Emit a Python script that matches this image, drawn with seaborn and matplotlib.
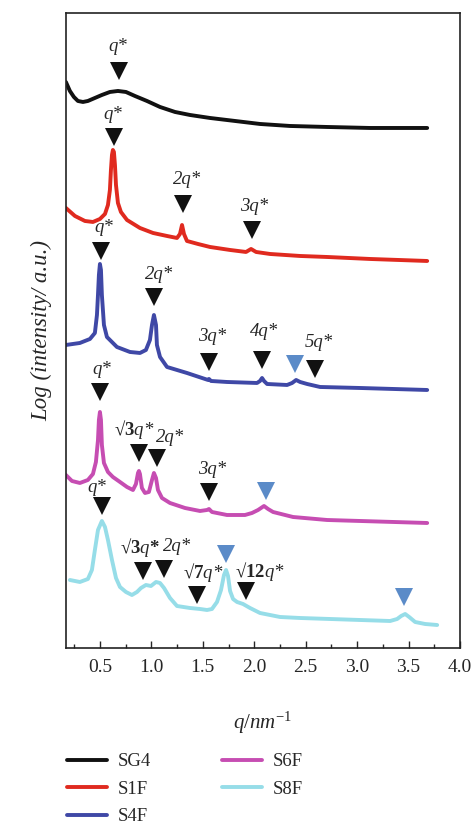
import matplotlib
matplotlib.use('Agg')
import matplotlib.pyplot as plt
import seaborn as sns
from matplotlib.ticker import MultipleLocator

# SAXS curves, q in nm^-1, log intensity in arbitrary units (stacked)
sg4_q = [0.169, 0.208, 0.247, 0.286, 0.335, 0.383, 0.451, 0.519, 0.597, 0.675, 0.753, 0.840, 0.957,
         1.084, 1.230, 1.375, 1.570, 1.813, 2.056, 2.348, 2.708, 3.126, 3.681]
sg4_i = [5.66, 5.57, 5.51, 5.47, 5.46, 5.47, 5.50, 5.53, 5.56, 5.57, 5.56, 5.52, 5.47,
         5.41, 5.36, 5.33, 5.30, 5.27, 5.24, 5.22, 5.21, 5.20, 5.20]

s1f_q = [0.169, 0.257, 0.354, 0.432, 0.5, 0.549, 0.578, 0.597, 0.607, 0.617, 0.626, 0.636, 0.646, 0.656,
         0.675, 0.704, 0.763, 0.889, 1.016, 1.152, 1.249, 1.278, 1.298, 1.317, 1.346, 1.453, 1.570,
         1.765, 1.920, 1.969, 2.018, 2.154, 2.446, 2.708, 3.126, 3.681]
s1f_i = [4.40, 4.32, 4.27, 4.26, 4.29, 4.34, 4.43, 4.58, 4.78, 4.93, 4.98, 4.96, 4.83, 4.63,
         4.45, 4.36, 4.28, 4.20, 4.15, 4.12, 4.10, 4.14, 4.23, 4.14, 4.07, 4.04, 4.01,
         3.98, 3.96, 3.99, 3.96, 3.94, 3.92, 3.91, 3.89, 3.87]

s4f_q = [0.169, 0.305, 0.403, 0.451, 0.471, 0.481, 0.490, 0.5, 0.510, 0.519, 0.539, 0.568, 0.665,
         0.792, 0.889, 0.947, 0.986, 1.006, 1.025, 1.045, 1.054, 1.084, 1.152, 1.346, 1.551, 1.560,
         1.580, 1.735, 2.027, 2.056, 2.076, 2.095, 2.125, 2.319, 2.368, 2.407, 2.446, 2.514, 2.640,
         3.029, 3.681]
s4f_i = [3.03, 3.05, 3.09, 3.15, 3.33, 3.53, 3.73, 3.84, 3.78, 3.53, 3.23, 3.11, 3.01,
         2.96, 2.95, 2.98, 3.08, 3.23, 3.33, 3.23, 3.03, 2.91, 2.81, 2.75, 2.68, 2.69,
         2.67, 2.66, 2.65, 2.67, 2.70, 2.67, 2.64, 2.63, 2.65, 2.68, 2.66, 2.64, 2.61,
         2.60, 2.58]

s6f_q = [0.169, 0.228, 0.305, 0.383, 0.432, 0.461, 0.481, 0.490, 0.5, 0.510, 0.519, 0.539, 0.578,
         0.626, 0.695, 0.763, 0.821, 0.850, 0.870, 0.879, 0.889, 0.908, 0.938, 0.976, 1.006, 1.025,
         1.045, 1.064, 1.103, 1.181, 1.327, 1.473, 1.541, 1.560, 1.589, 1.735, 1.910, 1.978, 2.037,
         2.095, 2.134, 2.183, 2.377, 2.708, 3.681]
s6f_i = [1.73, 1.67, 1.65, 1.68, 1.74, 1.86, 2.08, 2.28, 2.36, 2.28, 2.03, 1.85, 1.76,
         1.71, 1.66, 1.61, 1.58, 1.64, 1.75, 1.77, 1.74, 1.60, 1.55, 1.56, 1.68, 1.75,
         1.70, 1.58, 1.50, 1.45, 1.40, 1.37, 1.38, 1.39, 1.36, 1.33, 1.33, 1.35, 1.38,
         1.42, 1.39, 1.36, 1.31, 1.28, 1.25]

s8f_q = [0.208, 0.305, 0.383, 0.422, 0.451, 0.481, 0.519, 0.549, 0.578, 0.617, 0.656, 0.695, 0.753,
         0.811, 0.860, 0.899, 0.947, 0.996, 1.045, 1.084, 1.123, 1.181, 1.249, 1.375, 1.473, 1.541,
         1.589, 1.638, 1.677, 1.706, 1.726, 1.745, 1.765, 1.794, 1.833, 1.891, 1.959, 2.056, 2.251,
         2.446, 2.737, 3.029, 3.321, 3.389, 3.428, 3.467, 3.506, 3.564, 3.661, 3.778]
s8f_i = [0.68, 0.66, 0.69, 0.78, 0.98, 1.18, 1.27, 1.21, 1.08, 0.88, 0.70, 0.61, 0.56,
         0.53, 0.56, 0.60, 0.63, 0.62, 0.66, 0.65, 0.60, 0.50, 0.42, 0.40, 0.39, 0.38,
         0.39, 0.46, 0.58, 0.73, 0.78, 0.72, 0.57, 0.49, 0.46, 0.44, 0.40, 0.35, 0.31,
         0.30, 0.29, 0.28, 0.27, 0.29, 0.32, 0.34, 0.31, 0.26, 0.24, 0.23]

names = ['SG4', 'S1F', 'S4F', 'S6F', 'S8F']
colors = ['#111111', '#e02a1f', '#3f48a6', '#c64db2', '#96dde8']

# peak markers: q, height, kind ('k' indexed peak, 'b' other)
mark_q = [0.685, 0.636, 1.307, 1.979, 0.510, 1.025, 1.560, 2.076, 2.397, 2.591,
          0.500, 0.879, 1.054, 1.560, 2.115, 0.519, 0.918, 1.123, 1.726, 1.444, 1.920, 3.457]
mark_i = [5.77, 5.11, 4.44, 4.18, 3.97, 3.51, 2.86, 2.88, 2.84, 2.79,
          2.56, 1.95, 1.90, 1.56, 1.57, 1.42, 0.77, 0.79, 0.94, 0.53, 0.57, 0.51]
mark_kind = ['k', 'k', 'k', 'k', 'k', 'k', 'k', 'k', 'b', 'k',
             'k', 'k', 'k', 'k', 'b', 'k', 'k', 'k', 'b', 'k', 'k', 'b']

# peak labels
lab_text = ['q*', 'q*', '2q*', '3q*',
            'q*', '2q*', '3q*', '4q*', '5q*',
            'q*', r'$\mathbf{√3}$q*', '2q*', '3q*',
            'q*', r'$\mathbf{√3}$q$\mathbf{*}$', '2q*', r'$\mathbf{√7}$q*', r'$\mathbf{√12}$q*']
lab_q = [0.675, 0.626, 1.346, 1.999, 0.539, 1.074, 1.589, 2.095, 2.630,
         0.519, 0.830, 1.181, 1.589,
         0.471, 0.889, 1.249, 1.500, 2.056]
lab_i = [6.01, 5.33, 4.68, 4.41, 4.20, 3.73, 3.11, 3.16, 3.05,
         2.78, 2.18, 2.10, 1.78,
         1.60, 1.00, 1.01, 0.75, 0.76]

sns.set_style('white')
plt.rcParams['font.family'] = ['Liberation Serif', 'DejaVu Serif']
plt.rcParams['mathtext.fontset'] = 'custom'
plt.rcParams['mathtext.rm'] = 'Liberation Serif'
plt.rcParams['mathtext.it'] = 'Liberation Serif:italic'
plt.rcParams['mathtext.bf'] = 'Liberation Serif:bold'

fig = plt.figure(figsize=(4.73, 8.26), dpi=100)
ax = fig.add_axes([0.1395, 0.2155, 0.833, 0.7688])

series = [(sg4_q, sg4_i), (s1f_q, s1f_i), (s4f_q, s4f_i), (s6f_q, s6f_i), (s8f_q, s8f_i)]
for (q, inten), name, c in zip(series, names, colors):
    sns.lineplot(x=q, y=inten, ax=ax, color=c, lw=2.8, label=name, sort=False)

for q, y, k in zip(mark_q, mark_i, mark_kind):
    ax.plot(q, y, marker='v', ms=13.5, color='#111111' if k == 'k' else '#5b8bc8', mew=0, ls='none')

for t, q, y in zip(lab_text, lab_q, lab_i):
    ax.text(q, y, t, ha='center', va='center', fontsize=13.5, style='italic')

ax.set_xlim(0.17, 4.0)
ax.set_ylim(0, 6.35)
ax.set_yticks([])
ax.xaxis.set_major_locator(MultipleLocator(0.5))
ax.xaxis.set_minor_locator(MultipleLocator(0.25))
ax.tick_params(axis='x', which='both', direction='in', bottom=True, top=False, labelsize=14, pad=8)
ax.tick_params(axis='x', which='major', length=5, width=1)
ax.tick_params(axis='x', which='minor', length=3, width=1)
for s in ax.spines.values():
    s.set_color('#222222')
    s.set_linewidth(1.2)

ax.set_xlabel(r'$q/nm^{-1}$', fontsize=15, labelpad=24)
ax.set_ylabel('Log (intensity/ a.u.)', fontsize=16.5, style='italic', labelpad=10)

ax.legend(loc='upper left', bbox_to_anchor=(0.142, 0.088), bbox_transform=fig.transFigure,
          ncol=2, frameon=False, handlelength=2.1, handletextpad=0.6, columnspacing=3.8,
          labelspacing=0.55, borderpad=0, borderaxespad=0, fontsize=13.5)

fig.savefig('out.png', dpi=100)
